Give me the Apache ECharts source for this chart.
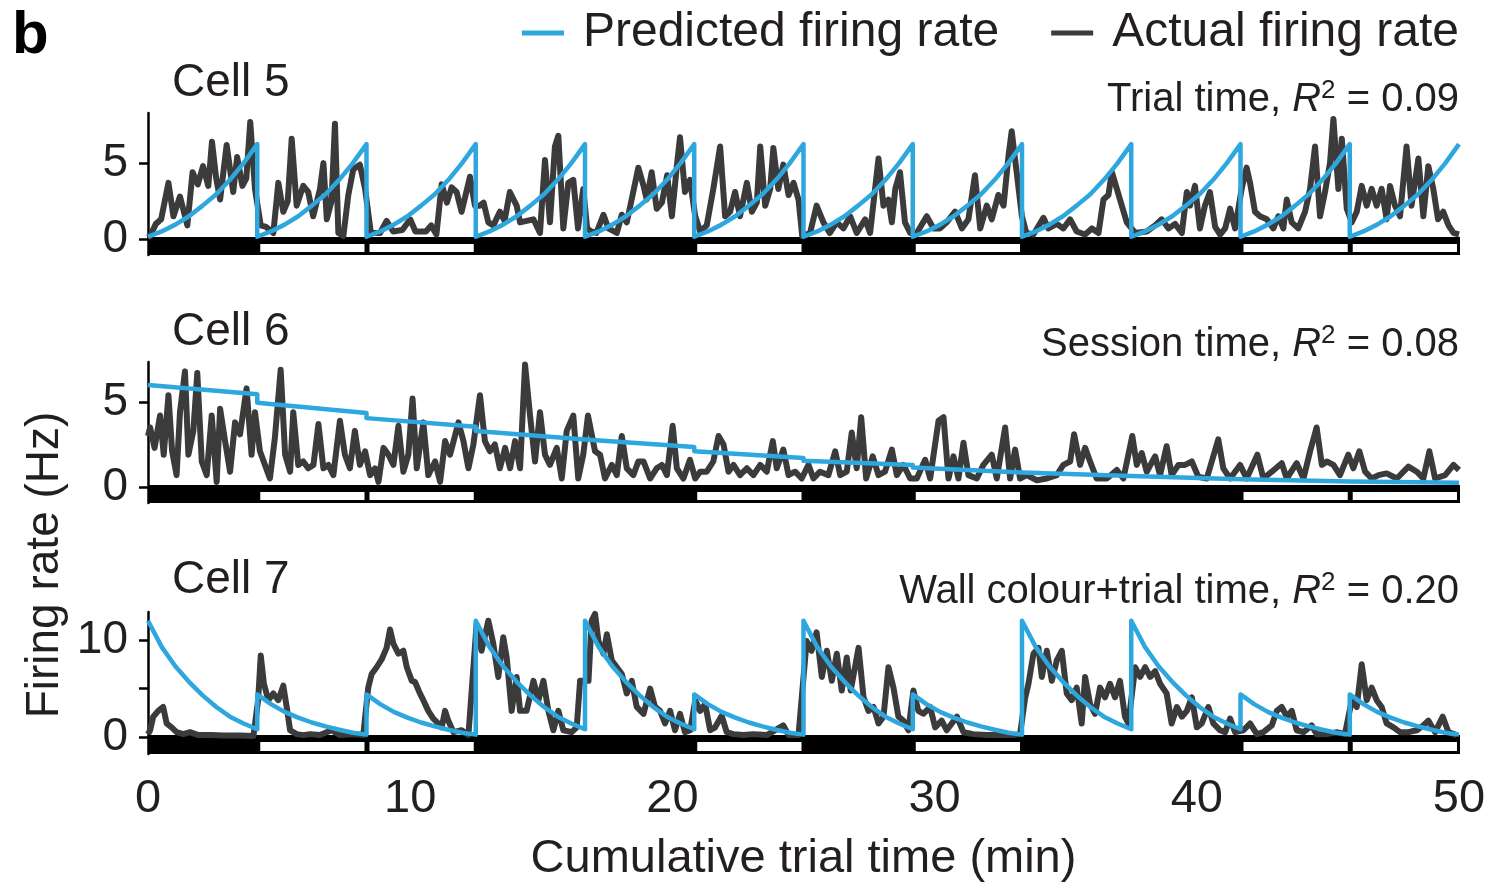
<!DOCTYPE html>
<html>
<head>
<meta charset="utf-8">
<script src="https://cdn.jsdelivr.net/npm/echarts@6/dist/echarts.min.js"></script>
<style>
  html, body { margin: 0; padding: 0; background: #fff; }
  #chart { width: 1491px; height: 886px; }
</style>
</head>
<body>
<div id="chart"></div>
<script>
// Trial structure: boundaries (min) and wall colour of each trial
const trialBounds = [0, 4.167, 8.333, 12.5, 16.667, 20.833, 25, 29.167, 33.333, 37.5, 41.667, 45.833, 50];
const trialWall = ['black', 'white', 'white', 'black', 'black', 'white', 'black', 'white', 'black', 'black', 'white', 'white'];

const xTickValues = [0, 10, 20, 30, 40, 50];
const cell5YTicks = [0, 5];
const cell6YTicks = [0, 5];
const cell7YTicks = [0, 5, 10];
const cell7YLabels = [0, 10];

const cellNames = ['Cell 5', 'Cell 6', 'Cell 7'];
const modelNames = ['Trial time', 'Session time', 'Wall colour+trial time'];
const modelR2 = ['0.09', '0.08', '0.20'];

// Actual firing rate, [time (min), rate (Hz)]
const cell5Actual = [[0,0.1],[0.08,0.2],[0.3,1.0],[0.5,1.3],[0.78,3.7],[0.97,1.5],[1.22,2.8],[1.5,0.9],[1.7,4.4],[1.9,3.6],[2.1,4.8],[2.3,3.5],[2.44,6.4],[2.6,4.0],[2.75,2.6],[3.0,6.2],[3.25,3.1],[3.4,5.4],[3.6,3.5],[3.75,4.0],[3.9,7.7],[4.08,3.3],[4.3,0.9],[4.5,0.8],[4.78,0.4],[4.97,3.7],[5.16,1.8],[5.33,2.5],[5.48,6.6],[5.67,2.2],[5.92,3.5],[6.11,3.1],[6.3,1.5],[6.56,3.3],[6.69,5.0],[6.82,1.3],[7.0,2.5],[7.13,7.6],[7.26,0.4],[7.45,0.2],[7.64,2.9],[7.83,4.6],[8.08,4.9],[8.28,3.3],[8.5,0.4],[8.85,0.4],[9.1,1.2],[9.35,0.5],[9.7,0.6],[10.0,1.3],[10.2,0.5],[10.6,0.5],[10.8,0.9],[11.0,0.3],[11.2,3.6],[11.4,2.4],[11.58,3.4],[11.77,3.1],[11.96,1.8],[12.28,4.1],[12.47,2.2],[12.66,2.2],[12.8,2.4],[12.98,1.1],[13.17,0.9],[13.42,1.8],[13.6,1.2],[13.8,3.1],[14.06,2.2],[14.19,1.1],[14.44,1.2],[14.7,1.3],[14.95,0.4],[15.14,5.2],[15.33,1.1],[15.52,6.1],[15.65,6.8],[15.84,0.7],[16.03,3.7],[16.22,3.9],[16.4,0.7],[16.6,3.3],
  [16.75,0.7],[16.9,0.5],[17.1,0.4],[17.37,1.6],[17.56,0.7],[17.88,0.4],[18.07,1.6],[18.26,1.1],[18.58,3.7],[18.7,4.7],[18.9,3.5],[19.02,2.6],[19.21,4.4],[19.4,2.0],[19.6,2.4],[19.8,4.2],[19.98,1.5],[20.17,4.8],[20.29,6.7],[20.48,3.1],[20.67,3.9],[20.87,1.5],[21.06,0.5],[21.31,0.9],[21.56,3.3],[21.82,6.1],[22.01,1.5],[22.2,1.8],[22.39,3.1],[22.58,1.5],[22.84,3.7],[23.03,1.8],[23.22,2.4],[23.35,6.1],[23.54,2.2],[23.73,3.3],[23.85,6.0],[24.04,3.3],[24.23,4.9],[24.43,2.9],[24.62,3.7],[24.81,2.6],[24.95,0.2],[25.25,0.4],[25.5,2.2],[25.76,1.1],[26.0,0.4],[26.27,1.1],[26.52,0.7],[26.78,1.5],[27.03,0.4],[27.35,1.3],[27.54,0.4],[27.73,3.3],[27.86,5.3],[28.05,2.2],[28.24,2.6],[28.37,1.1],[28.5,3.3],[28.68,4.4],[28.87,1.1],[29.07,0.4],[29.32,0.4],[29.7,1.5],[29.96,0.7],[30.21,0.7],[30.46,1.1],[30.78,1.8],[31.04,0.7],[31.29,1.3],[31.54,4.2],[31.74,0.7],[31.99,2.2],[32.18,1.3],[32.43,2.9],[32.63,2.2],[32.82,5.5],[32.94,7.1],[33.13,4.4],[33.33,1.5],
  [33.5,0.4],[33.77,0.3],[34.15,1.4],[34.34,0.7],[34.66,1.0],[34.91,0.7],[35.17,1.3],[35.42,0.5],[35.74,0.3],[36.0,0.7],[36.25,0.4],[36.44,2.6],[36.63,2.9],[36.76,4.4],[36.95,3.3],[37.14,2.2],[37.33,1.1],[37.65,0.4],[38.09,0.5],[38.41,0.9],[38.66,1.3],[38.92,0.7],[39.17,1.0],[39.43,0.4],[39.62,3.1],[39.74,2.2],[39.93,3.5],[40.12,0.7],[40.31,2.2],[40.5,3.1],[40.7,0.8],[40.89,0.3],[41.08,0.7],[41.27,2.0],[41.46,0.7],[41.71,3.3],[41.9,4.7],[42.03,3.7],[42.22,1.8],[42.41,1.5],[42.67,1.3],[42.92,0.7],[43.11,1.5],[43.3,0.7],[43.43,2.6],[43.62,1.1],[43.87,0.7],[44.13,1.8],[44.32,3.3],[44.51,6.1],[44.7,1.5],[44.89,3.1],[45.08,5.0],[45.21,7.9],[45.4,3.3],[45.53,6.6],[45.72,2.0],[45.91,1.1],[46.1,1.8],[46.29,3.5],[46.48,2.2],[46.67,3.3],[46.86,2.2],[47.05,3.3],[47.24,1.3],[47.37,3.5],[47.56,2.2],[47.75,1.5],[48.0,6.1],[48.19,2.2],[48.45,5.3],[48.64,1.5],[48.83,4.8],[49.02,3.3],[49.2,1.3],[49.4,1.8],[49.6,0.9],[49.79,0.4],[50,0.3]];

const cell6Actual = [[0,3.0],[0.08,3.5],[0.25,2.3],[0.46,4.2],[0.6,1.9],[0.78,5.4],[0.92,2.1],[1.09,0.7],[1.22,4.4],[1.41,6.8],[1.54,1.9],[1.73,3.3],[1.88,6.7],[2.05,1.5],[2.24,0.7],[2.43,4.2],[2.62,0.3],[2.75,4.6],[2.94,2.7],[3.13,0.9],[3.32,3.8],[3.51,3.1],[3.76,5.8],[3.95,1.9],[4.08,4.4],[4.27,2.1],[4.46,1.3],[4.65,0.5],[4.84,2.9],[5.06,6.9],[5.23,1.9],[5.42,0.9],[5.54,4.4],[5.73,1.3],[5.92,1.5],[6.11,1.1],[6.31,1.3],[6.5,3.7],[6.69,1.1],[6.88,1.3],[7.07,0.7],[7.32,3.9],[7.51,1.9],[7.7,1.1],[7.89,3.3],[8.08,1.3],[8.28,2.1],[8.47,0.7],[8.66,1.1],[8.79,0.3],[8.98,2.3],[9.17,1.9],[9.36,1.3],[9.55,3.6],[9.74,0.9],[9.93,1.9],[10.09,5.2],[10.25,1.1],[10.5,3.8],[10.69,0.7],[10.95,1.5],[11.14,0.3],[11.33,2.7],[11.52,1.9],[11.84,3.8],[12.03,2.7],[12.22,1.1],[12.41,2.5],[12.66,5.4],[12.85,2.7],[13.04,2.1],[13.23,2.5],[13.42,1.1],[13.62,2.3],[13.81,1.1],[14.0,2.7],[14.19,1.1],[14.38,7.2],[14.57,4.2],[14.76,1.5],[14.95,4.4],[15.14,1.9],[15.33,1.3],[15.59,2.3],[15.78,0.5],[15.97,3.3],[16.22,4.2],[16.41,0.5],
  [16.6,1.9],[16.78,4.2],[17.05,2.1],[17.24,1.9],[17.43,0.5],[17.69,1.3],[17.88,0.7],[18.07,3.0],[18.26,1.1],[18.51,0.7],[18.7,1.5],[18.9,1.5],[19.15,0.5],[19.4,1.1],[19.6,1.3],[19.79,0.7],[20.01,3.6],[20.17,1.1],[20.42,0.5],[20.67,1.6],[20.87,0.5],[21.06,0.9],[21.31,0.9],[21.56,1.5],[21.76,3.0],[21.95,2.5],[22.14,0.9],[22.33,1.3],[22.58,0.7],[22.84,1.1],[23.09,0.7],[23.35,1.3],[23.6,0.9],[23.83,2.7],[23.98,1.1],[24.23,2.2],[24.43,0.7],[24.68,0.9],[24.93,0.5],[25.19,1.3],[25.38,0.5],[25.63,0.9],[25.95,0.7],[26.21,2.1],[26.4,0.7],[26.65,0.9],[26.84,3.2],[27.03,1.1],[27.2,4.1],[27.39,0.5],[27.64,1.8],[27.86,0.7],[28.11,0.9],[28.37,2.2],[28.56,0.7],[28.81,1.3],[29.07,0.5],[29.32,0.5],[29.64,1.6],[29.83,0.5],[30.15,3.9],[30.34,4.1],[30.53,0.5],[30.72,1.8],[30.91,0.5],[31.1,2.6],[31.29,0.7],[31.61,0.5],[31.86,1.3],[32.18,1.9],[32.37,0.5],[32.69,3.5],[32.88,0.5],[33.07,2.2],[33.26,0.5],
  [33.51,0.7],[33.9,0.4],[34.28,0.5],[34.66,0.7],[34.91,1.3],[35.17,1.5],[35.32,3.1],[35.55,1.3],[35.74,2.3],[35.93,1.5],[36.18,0.5],[36.57,0.5],[36.95,1.0],[37.2,0.5],[37.54,3.0],[37.71,1.3],[37.9,2.0],[38.09,0.9],[38.41,1.8],[38.6,0.7],[38.85,2.4],[39.04,0.7],[39.3,1.3],[39.55,1.3],[39.81,1.5],[40.06,0.6],[40.38,0.5],[40.82,2.8],[41.01,1.1],[41.27,0.5],[41.65,1.3],[41.9,0.5],[42.31,1.9],[42.54,0.5],[42.86,0.9],[43.24,1.4],[43.43,0.5],[43.81,1.4],[44.07,0.5],[44.32,2.1],[44.57,3.5],[44.77,1.3],[44.96,1.5],[45.21,1.3],[45.46,0.7],[45.78,1.9],[45.97,1.1],[46.2,2.1],[46.42,0.9],[46.67,0.5],[46.93,0.7],[47.24,0.8],[47.63,0.5],[48.07,1.2],[48.39,0.9],[48.64,0.5],[48.87,2.1],[49.09,0.5],[49.47,0.7],[49.79,1.3],[50,1.0]];

const cell7Actual = [[0,0.3],[0.08,0.7],[0.2,2.1],[0.39,2.7],[0.58,3.1],[0.71,1.4],[0.9,1.0],[1.09,0.5],[1.35,0.3],[1.6,0.5],[1.92,0.2],[2.4,0.2],[2.87,0.15],[3.5,0.15],[4.02,0.1],
  [4.2,3.8],[4.3,8.4],[4.42,5.5],[4.59,3.8],[4.78,4.5],[4.97,3.8],[5.16,5.3],[5.29,3.1],[5.42,0.7],[5.67,0.3],[5.92,0.2],[6.18,0.3],[6.56,0.2],[7.0,0.7],[7.32,0.2],[7.83,0.3],[8.21,0.2],
  [8.4,5.1],[8.53,6.5],[8.72,7.2],[8.91,8.0],[9.1,9.2],[9.23,11.1],[9.36,9.6],[9.55,8.6],[9.74,8.9],[9.87,7.2],[10.06,5.8],[10.18,5.7],[10.37,4.5],[10.5,3.8],[10.69,2.7],[10.88,1.9],[11.07,1.4],[11.2,1.0],[11.33,2.7],[11.45,1.7],[11.65,0.5],[11.96,0.7],[12.22,0.2],
  [12.53,11.6],[12.72,8.9],[12.98,12.0],[13.17,9.6],[13.36,6.2],[13.55,10.3],[13.68,8.2],[13.87,2.7],[14.06,6.2],[14.19,2.7],[14.44,2.7],[14.7,5.8],[14.89,3.8],[15.08,5.8],[15.27,2.7],[15.46,0.7],[15.65,2.7],[15.84,0.7],[16.16,0.5],[16.35,1.0],[16.48,5.8],[16.6,5.8],
  [16.8,5.8],[16.92,12.0],[17.05,12.7],[17.18,9.9],[17.37,8.6],[17.5,10.6],[17.69,7.9],[17.88,7.2],[18.07,6.5],[18.26,4.5],[18.45,5.8],[18.64,3.1],[18.9,2.4],[19.15,5.0],[19.34,3.1],[19.53,2.7],[19.72,1.4],[19.91,2.7],[20.1,0.7],[20.29,2.4],[20.48,0.5],[20.68,0.7],
  [20.87,3.8],[21.06,2.7],[21.25,3.4],[21.44,0.7],[21.63,1.0],[21.88,2.2],[22.07,0.5],[22.33,0.3],[22.71,0.2],[23.09,0.3],[23.6,0.2],[24.23,1.2],[24.43,0.2],[24.81,0.2],
  [25.12,9.9],[25.31,8.9],[25.5,10.8],[25.7,6.2],[25.89,8.9],[26.08,5.8],[26.27,8.6],[26.46,4.8],[26.65,8.2],[26.8,4.8],[27.1,9.2],[27.29,4.1],[27.48,2.7],[27.67,3.1],[27.86,1.4],[28.05,2.1],[28.24,7.2],[28.43,5.1],[28.62,2.1],[28.81,1.7],[29.0,0.7],
  [29.19,4.8],[29.38,2.7],[29.57,2.4],[29.83,3.1],[30.02,1.0],[30.27,1.7],[30.46,0.7],[30.85,2.1],[31.1,0.5],[31.48,0.3],[31.99,0.2],[32.5,0.2],[33.01,0.2],[33.26,0.3],
  [33.45,4.0],[33.58,5.5],[33.77,8.6],[33.96,9.2],[34.09,6.2],[34.28,8.9],[34.47,5.8],[34.66,7.9],[34.85,8.9],[35.04,4.5],[35.23,3.8],[35.42,5.1],[35.61,1.4],[35.74,6.2],[35.93,3.4],[36.12,2.4],[36.31,5.1],[36.5,4.1],[36.69,5.5],[36.88,4.1],[37.07,5.8],[37.26,2.1],[37.39,1.4],
  [37.65,7.2],[37.84,6.2],[38.03,7.2],[38.22,6.2],[38.41,6.8],[38.6,5.5],[38.85,4.5],[39.04,1.4],[39.24,3.1],[39.43,2.1],[39.62,2.7],[39.81,4.1],[40.0,1.0],[40.19,1.4],[40.44,3.1],[40.63,1.4],[40.89,0.7],[41.08,0.5],[41.27,1.9],[41.46,0.5],
  [41.78,0.7],[42.03,1.4],[42.29,0.3],[42.54,0.5],[42.86,1.2],[43.05,2.7],[43.24,3.1],[43.43,2.1],[43.62,2.7],[43.81,0.7],[44.07,0.5],[44.38,1.2],[44.57,0.3],[44.96,0.3],[45.34,0.5],[45.65,0.3],
  [45.91,3.8],[46.1,3.1],[46.29,7.5],[46.48,3.8],[46.67,5.1],[46.86,3.8],[47.05,3.1],[47.24,1.4],[47.5,1.0],[47.75,0.5],[48.07,0.5],[48.39,0.7],[48.64,1.2],[48.83,1.7],[49.09,0.5],[49.38,2.1],[49.6,0.5],[49.91,0.2]];

// Predicted firing rate.
// Cell 5 and Cell 7: rate at nine evenly spaced points through each trial (start ... end).
const cell5Predicted = [
  [0.15, 0.5, 0.95, 1.5, 2.2, 2.95, 3.9, 5.0, 6.25],
  [0.15, 0.5, 0.95, 1.5, 2.2, 2.95, 3.9, 5.0, 6.25],
  [0.15, 0.5, 0.95, 1.5, 2.2, 2.95, 3.9, 5.0, 6.25],
  [0.15, 0.5, 0.95, 1.5, 2.2, 2.95, 3.9, 5.0, 6.25],
  [0.15, 0.5, 0.95, 1.5, 2.2, 2.95, 3.9, 5.0, 6.25],
  [0.15, 0.5, 0.95, 1.5, 2.2, 2.95, 3.9, 5.0, 6.25],
  [0.15, 0.5, 0.95, 1.5, 2.2, 2.95, 3.9, 5.0, 6.25],
  [0.15, 0.5, 0.95, 1.5, 2.2, 2.95, 3.9, 5.0, 6.25],
  [0.15, 0.5, 0.95, 1.5, 2.2, 2.95, 3.9, 5.0, 6.25],
  [0.15, 0.5, 0.95, 1.5, 2.2, 2.95, 3.9, 5.0, 6.25],
  [0.15, 0.5, 0.95, 1.5, 2.2, 2.95, 3.9, 5.0, 6.25],
  [0.15, 0.5, 0.95, 1.5, 2.2, 2.95, 3.9, 5.0, 6.25]
];
const cell7Predicted = [
  [12.0, 9.3, 7.3, 5.7, 4.3, 3.1, 2.1, 1.4, 0.8],
  [4.4, 3.4, 2.6, 2.0, 1.5, 1.1, 0.75, 0.45, 0.25],
  [4.4, 3.4, 2.6, 2.0, 1.5, 1.1, 0.75, 0.45, 0.25],
  [12.0, 9.3, 7.3, 5.7, 4.3, 3.1, 2.1, 1.4, 0.8],
  [12.0, 9.3, 7.3, 5.7, 4.3, 3.1, 2.1, 1.4, 0.8],
  [4.4, 3.4, 2.6, 2.0, 1.5, 1.1, 0.75, 0.45, 0.25],
  [12.0, 9.3, 7.3, 5.7, 4.3, 3.1, 2.1, 1.4, 0.8],
  [4.4, 3.4, 2.6, 2.0, 1.5, 1.1, 0.75, 0.45, 0.25],
  [12.0, 9.3, 7.3, 5.7, 4.3, 3.1, 2.1, 1.4, 0.8],
  [12.0, 9.3, 7.3, 5.7, 4.3, 3.1, 2.1, 1.4, 0.8],
  [4.4, 3.4, 2.6, 2.0, 1.5, 1.1, 0.75, 0.45, 0.25],
  [4.4, 3.4, 2.6, 2.0, 1.5, 1.1, 0.75, 0.45, 0.25]
];
// Cell 6: rate at the start and end of each trial
const cell6Predicted = [
  [6.0, 5.45], [4.95, 4.35], [4.05, 3.55], [3.3, 2.8], [2.8, 2.35], [2.1, 1.7],
  [1.55, 1.3], [1.15, 0.85], [0.85, 0.65], [0.6, 0.45], [0.42, 0.33], [0.3, 0.25]
];

const FONT = '"Liberation Sans", Arial, Helvetica, sans-serif';
const INK = '#231f20';
const BLUE = '#2ea7df';
const GREY = '#3b3b3b';

// Place per-trial samples at their times within the trial
function trialSamples(rows) {
  const out = [];
  rows.forEach((vals, i) => {
    const t0 = trialBounds[i], t1 = trialBounds[i + 1];
    vals.forEach((v, k) => out.push([t0 + (t1 - t0) * k / (vals.length - 1), v]));
  });
  return out;
}

const stripData = trialWall.map((w, i) => [trialBounds[i], trialBounds[i + 1], w === 'white' ? 1 : 0]);

// Black/white wall-colour strip under each panel
function renderStrip(params, api) {
  const cs = params.coordSys;
  const p0 = api.coord([api.value(0), 0]);
  const p1 = api.coord([api.value(1), 0]);
  const top = p0[1] - 2;
  const bottom = cs.y + cs.height;
  const children = [{
    type: 'rect',
    shape: { x: p0[0], y: top, width: p1[0] - p0[0] + 1, height: bottom - top },
    style: { fill: '#000' }
  }];
  if (api.value(2) === 1) {
    children.push({
      type: 'rect',
      shape: { x: p0[0] + 3, y: top + 7, width: p1[0] - p0[0] - 5, height: bottom - top - 10 },
      style: { fill: '#fff' }
    });
  }
  return { type: 'group', children };
}

const panels = [
  { top: 113, height: 142, min: -1.05, max: 8.3, ticks: cell5YTicks, labels: cell5YTicks,
    actual: cell5Actual, predicted: trialSamples(cell5Predicted), labelY: 83, noteY: 100 },
  { top: 362, height: 141, min: -0.94, max: 7.35, ticks: cell6YTicks, labels: cell6YTicks,
    actual: cell6Actual, predicted: trialSamples(cell6Predicted), labelY: 332, noteY: 345 },
  { top: 612, height: 142, min: -1.75, max: 12.9, ticks: cell7YTicks, labels: cell7YLabels,
    actual: cell7Actual, predicted: trialSamples(cell7Predicted), labelY: 580, noteY: 592 }
];

const grid = [], xAxis = [], yAxis = [], series = [], graphic = [];

panels.forEach((p, i) => {
  const last = i === panels.length - 1;
  grid.push({ left: 148, right: 32, top: p.top, height: p.height });
  xAxis.push({
    type: 'value', gridIndex: i, min: 0, max: 50, interval: 10,
    show: last,
    axisLine: { show: false }, axisTick: { show: false }, splitLine: { show: false },
    axisLabel: { show: last, fontFamily: FONT, fontSize: 47, color: INK, margin: 22,
      customValues: xTickValues },
    name: last ? 'Cumulative trial time (min)' : '',
    nameLocation: 'middle', nameGap: 82,
    nameTextStyle: { fontFamily: FONT, fontSize: 47, color: INK }
  });
  yAxis.push({
    type: 'value', gridIndex: i, min: p.min, max: p.max,
    splitLine: { show: false },
    axisLine: { show: true, lineStyle: { color: '#000', width: 2.5 } },
    axisTick: { show: true, length: 9, lineStyle: { color: '#000', width: 2.5 }, customValues: p.ticks },
    axisLabel: { fontFamily: FONT, fontSize: 46, color: INK, margin: 20, customValues: p.labels }
  });
  series.push({
    name: 'Wall colour', type: 'custom', xAxisIndex: i, yAxisIndex: i,
    renderItem: renderStrip, data: stripData, encode: { x: [0, 1] },
    silent: true, z: 1
  });
  series.push({
    name: 'Actual firing rate', type: 'line', xAxisIndex: i, yAxisIndex: i,
    data: p.actual, showSymbol: false, symbol: 'none', silent: true, z: 2,
    itemStyle: { color: GREY },
    lineStyle: { color: GREY, width: 6, join: 'round' }
  });
  series.push({
    name: 'Predicted firing rate', type: 'line', xAxisIndex: i, yAxisIndex: i,
    data: p.predicted, showSymbol: false, symbol: 'none', silent: true, z: 3,
    itemStyle: { color: BLUE },
    lineStyle: { color: BLUE, width: 4.5, join: 'round' }
  });
  graphic.push({
    type: 'text', x: 172, y: p.labelY,
    style: { text: cellNames[i], font: '46px ' + FONT, fill: INK, align: 'left', verticalAlign: 'middle' }
  });
  graphic.push({
    type: 'text', x: 1459, y: p.noteY,
    style: {
      text: '{a|' + modelNames[i] + ', }{r|R}{s|2}{a| = ' + modelR2[i] + '}',
      align: 'right', verticalAlign: 'middle',
      rich: {
        a: { fontFamily: FONT, fontSize: 40, fill: INK, lineHeight: 44 },
        r: { fontFamily: FONT, fontSize: 40, fontStyle: 'italic', fill: INK, lineHeight: 44 },
        s: { fontFamily: FONT, fontSize: 26, fill: INK, lineHeight: 26, verticalAlign: 'top' }
      }
    }
  });
});

graphic.push({
  type: 'text', x: 12, y: 36,
  style: { text: 'b', font: 'bold 60px ' + FONT, fill: '#000', align: 'left', verticalAlign: 'middle' }
});
graphic.push({
  type: 'text', x: 45, y: 565, rotation: Math.PI / 2,
  style: { text: 'Firing rate (Hz)', font: '46px ' + FONT, fill: INK, align: 'center', verticalAlign: 'middle' }
});

const chart = echarts.init(document.getElementById('chart'), null, { renderer: 'canvas' });
chart.setOption({
  animation: false,
  backgroundColor: '#fff',
  legend: {
    data: ['Predicted firing rate', 'Actual firing rate'],
    right: 32, top: 9, padding: 0,
    icon: 'rect', itemWidth: 42, itemHeight: 5, itemGap: 52,
    selectedMode: false,
    textStyle: { fontFamily: FONT, fontSize: 48, color: INK, padding: [0, 0, 0, 14] }
  },
  grid, xAxis, yAxis, series, graphic
});
</script>
</body>
</html>
